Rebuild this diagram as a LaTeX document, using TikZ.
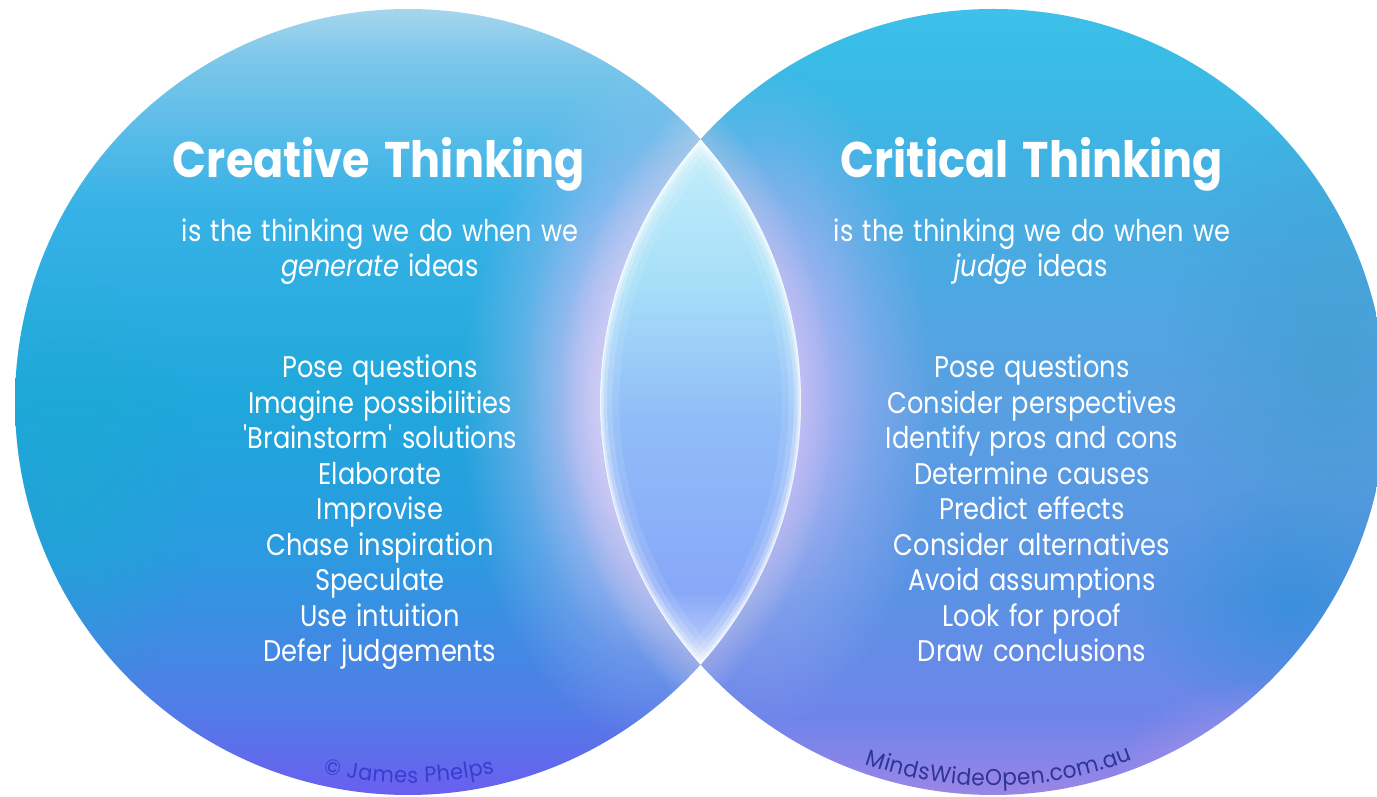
\documentclass[tikz,border=0pt]{standalone}
\usepackage{fontspec}
\setmainfont{Poppins}
\newfontfamily\titlefont[FakeStretch=0.89, WordSpace=1.5]{Poppins}
\newfontfamily\bodyfont[FakeStretch=0.86, WordSpace=1.35]{Poppins}
\newfontfamily\footfont[FakeStretch=0.95]{Poppins}
\usetikzlibrary{fadings,decorations.text}
\definecolor{Lb}{HTML}{6A5FF0}
\definecolor{L1}{HTML}{4F7FE6}
\definecolor{L2}{HTML}{2A9BE0}
\definecolor{L3}{HTML}{1FA7DB}
\definecolor{L4}{HTML}{38B2E6}
\definecolor{L5}{HTML}{7CC6EA}
\definecolor{Lt}{HTML}{A6D6EE}
\definecolor{Rb}{HTML}{9A86E6}
\definecolor{R1}{HTML}{6F84EA}
\definecolor{R2}{HTML}{5B92E4}
\definecolor{R3}{HTML}{58A0E2}
\definecolor{R4}{HTML}{44AEE2}
\definecolor{R5}{HTML}{38BDE6}
\definecolor{Rt}{HTML}{3EC0EA}
\definecolor{Nt}{HTML}{C4EEFA}
\definecolor{N1}{HTML}{A8E0F8}
\definecolor{N2}{HTML}{90BCF8}
\definecolor{N3}{HTML}{88A8F8}
\definecolor{Nb}{HTML}{C8D8FA}
\definecolor{lteal}{HTML}{16AECB}
\definecolor{rteal}{HTML}{3E9CCC}
\definecolor{rdeep}{HTML}{1A8ED4}
\definecolor{rpink}{HTML}{D8A4E8}
\definecolor{glowL}{HTML}{DCC4FA}
\definecolor{glowR}{HTML}{C0B8F8}
\definecolor{pinkrim}{HTML}{F4E0FB}
\definecolor{footL}{HTML}{3B3CCF}
\definecolor{footR}{HTML}{2F3496}
\pgfdeclareverticalshading{leftsh}{100bp}{color(0bp)=(Lb); color(25bp)=(Lb); color(31bp)=(L1); color(40.6bp)=(L2); color(50bp)=(L3); color(62.8bp)=(L4); color(71.8bp)=(L5); color(75bp)=(Lt); color(100bp)=(Lt)}
\pgfdeclareverticalshading{rightsh}{100bp}{color(0bp)=(Rb); color(25bp)=(Rb); color(29.8bp)=(R1); color(37.4bp)=(R2); color(50.1bp)=(R3); color(62.9bp)=(R4); color(72.4bp)=(R5); color(75bp)=(Rt); color(100bp)=(Rt)}
\pgfdeclareverticalshading{lenssh}{100bp}{color(0bp)=(Nb); color(25bp)=(Nb); color(32bp)=(N3); color(48bp)=(N2); color(62bp)=(N1); color(75bp)=(Nt); color(100bp)=(Nt)}
\tikzfading[name=glow, inner color=transparent!0, outer color=transparent!100]
\tikzset{
  title/.style={text=white, inner sep=0pt, anchor=base, font=\titlefont\bfseries\fontsize{28.5}{30}\selectfont},
  body/.style={text=white, inner sep=0pt, anchor=base, font=\bodyfont\fontsize{17}{20}\selectfont},
}
\begin{document}
\begin{tikzpicture}[x=0.02cm,y=0.02cm]
\useasboundingbox (0,0) rectangle (1377,797);
\fill[white] (0,0) rectangle (1377,797);
\coordinate (cL) at (408,395);
\coordinate (cR) at (993,395);
% left circle
\begin{scope}
  \clip (cL) circle (393);
  \shade[shading=leftsh] (15,2) rectangle (801,788);
  \fill[lteal, path fading=glow, fill opacity=0.45] (70,300) ellipse (130 and 220);
  \fill[glowL, path fading=glow, fill opacity=1] (660,390) ellipse (200 and 340);
  \fill[glowL, path fading=glow, fill opacity=0.7] (640,400) ellipse (120 and 260);
  \foreach \w in {4,8,...,44}
    \draw[pinkrim, line width=\w pt, opacity=0.045] (cR) circle (393);
\end{scope}
% right circle
\begin{scope}
  \clip (cR) circle (393);
  \shade[shading=rightsh] (600,2) rectangle (1386,788);
  \fill[rteal, path fading=glow, fill opacity=0.6] (1330,430) ellipse (160 and 260);
  \fill[rdeep, path fading=glow, fill opacity=0.5] (1290,190) ellipse (150 and 120);
  \fill[rpink, path fading=glow, fill opacity=0.6] (1280,20) ellipse (170 and 100);
  \fill[glowR, path fading=glow, fill opacity=0.95] (760,400) ellipse (175 and 330);
  \fill[glowR, path fading=glow, fill opacity=0.55] (770,420) ellipse (105 and 240);
  \foreach \w in {4,8,...,36}
    \draw[pinkrim, line width=\w pt, opacity=0.04] (cL) circle (393);
\end{scope}
% lens
\begin{scope}
  \clip (cL) circle (393);
  \clip (cR) circle (393);
  \shade[shading=lenssh] (600,132) rectangle (801,658);
  \foreach \w/\o in {22/0.1, 14/0.15, 8/0.25, 4/0.4, 1.5/0.6} {
    \draw[white, line width=\w pt, opacity=\o] (cL) circle (393);
    \draw[white, line width=\w pt, opacity=\o] (cR) circle (393);
  }
\end{scope}
% titles
\node[title] (tL) at (379,619) {Creative Thinking};
\node[title] (tR) at (1032,619) {Critical Thinking};
\node[body] (sL1) at (380,555) {is the thinking we do when we};
\node[body] (sL2) at (380,520) {\textit{generate} ideas};
\node[body] (sR1) at (1032,555) {is the thinking we do when we};
\node[body] (sR2) at (1031,520) {\textit{judge} ideas};
\foreach \t [count=\i] in {Pose questions, Imagine possibilities, \textquotesingle Brainstorm\textquotesingle{} solutions, Elaborate, Improvise, Chase inspiration, Speculate, Use intuition, Defer judgements}
  \node[body] (L\i) at (380,{419-35.5*(\i-1)}) {\t};
\foreach \t [count=\i] in {Pose questions, Consider perspectives, Identify pros and cons, Determine causes, Predict effects, Consider alternatives, Avoid assumptions, Look for proof, Draw conclusions}
  \node[body] (R\i) at (1032,{419-35.5*(\i-1)}) {\t};
% footers
\path[decorate, decoration={text along path, text={|\footfont\fontsize{12.5}{14}\selectfont|© James Phelps}, text color=footL, text align=fit to path}]
  ([shift={(257.2:381)}]cL) arc[start angle=257.2, end angle=283.2, radius=381];
\path[decorate, decoration={text along path, text={|\footfont\fontsize{13}{14}\selectfont|MindsWideOpen.com.au}, text color=footR, text align=fit to path}]
  ([shift={(250.5:384)}]cR) arc[start angle=250.5, end angle=291.3, radius=384];
\end{tikzpicture}
\end{document}
